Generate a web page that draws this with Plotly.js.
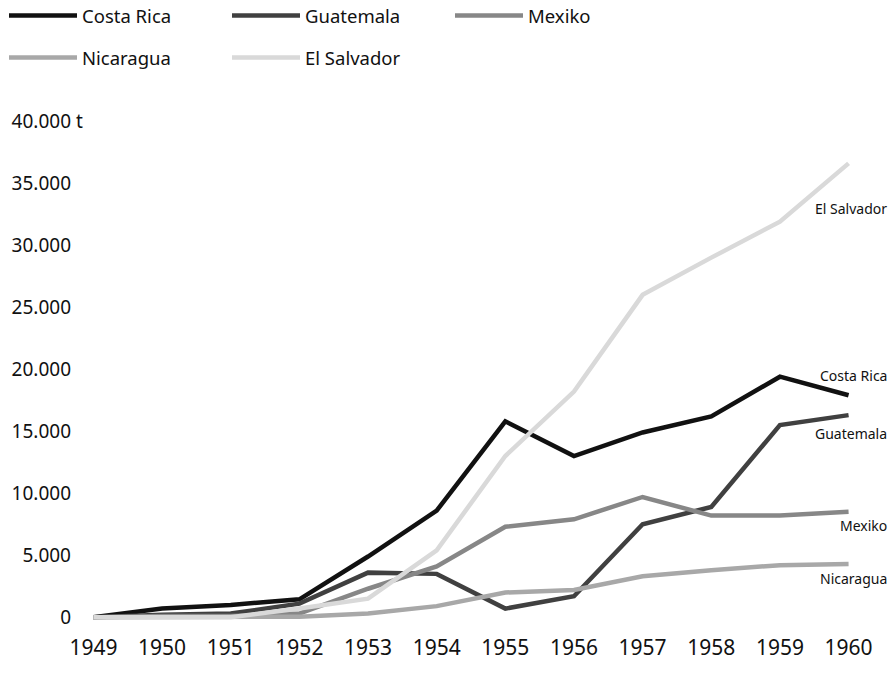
<!DOCTYPE html>
<html>
<head>
<meta charset="utf-8">
<script src="https://cdn.plot.ly/plotly-3.0.1.min.js"></script>
<style>html,body{margin:0;padding:0;background:#fff;}#chart{width:894px;height:686px;}</style>
</head>
<body>
<div id="chart"></div>
<script>
const years = [1949,1950,1951,1952,1953,1954,1955,1956,1957,1958,1959,1960];
const costaRica  = [0, 700, 1000, 1450, 4900, 8600, 15800, 13000, 14900, 16200, 19400, 17900];
const guatemala  = [0, 200, 300, 1100, 3600, 3500, 700, 1700, 7500, 8900, 15500, 16300];
const mexiko     = [0, 100, 100, 300, 2300, 4100, 7300, 7900, 9700, 8200, 8200, 8500];
const nicaragua  = [0, 0, 0, 50, 300, 900, 2000, 2200, 3300, 3800, 4200, 4300];
const elSalvador = [0, 0, 0, 700, 1500, 5400, 13000, 18200, 26000, 29000, 31900, 36600];

const seriesNames = ['Costa Rica','Guatemala','Mexiko','Nicaragua','El Salvador'];
const seriesData = [costaRica, guatemala, mexiko, nicaragua, elSalvador];
const colors = ['#111111','#404040','#878787','#a8a8a8','#d9d9d9'];
const legendOf = ['legend','legend','legend','legend2','legend2'];

const yTickVals = [0,5000,10000,15000,20000,25000,30000,35000,40000];
const yTickText = ['0','5.000','10.000','15.000','20.000','25.000','30.000','35.000','40.000'];
const yUnit = 't';

// end-of-line labels and the y-level where each is written
const endLabels = ['El Salvador','Costa Rica','Guatemala','Mexiko','Nicaragua'];
const endLabelY = [33000, 19500, 14800, 7400, 3100];

const FONT = 'Noto Sans, Open Sans, sans-serif';

const traces = seriesNames.map((n,i)=>({
  x: years, y: seriesData[i], name: n, type:'scatter', mode:'lines',
  line:{color:colors[i], width:4.5}, legend: legendOf[i], hoverinfo:'skip'
}));

const annotations = endLabels.map((t,i)=>({
  x: 1960, y: endLabelY[i], xref:'x', yref:'y', text:t, showarrow:false,
  xanchor:'right', yanchor:'middle', xshift:40,
  font:{family:FONT, size:14, color:'#111'}
}));
annotations.push({
  x: 0, y: 40000, xref:'paper', yref:'y', text: yUnit, showarrow:false,
  xanchor:'left', yanchor:'middle', xshift:-16,
  font:{family:FONT, size:19, color:'#111'}
});

const legendCommon = {
  orientation:'h', xanchor:'left', yanchor:'middle', xref:'container', yref:'container',
  entrywidth:140, entrywidthmode:'pixels', itemwidth:68,
  font:{family:FONT, size:18.5, color:'#111'}, bgcolor:'rgba(0,0,0,0)'
};

const layout = {
  width:894, height:686,
  margin:{l:90, r:42, t:115, b:65},
  paper_bgcolor:'#fff', plot_bgcolor:'#fff',
  showlegend:true,
  legend: Object.assign({}, legendCommon, {x:4/894, y:1-16/686}),
  legend2: Object.assign({}, legendCommon, {x:4/894, y:1-58/686}),
  xaxis:{
    range:[1948.95,1960.05], tickvals:years, ticktext:years.map(String),
    showgrid:false, zeroline:false, showline:false, ticks:'',
    ticklabelstandoff:12,
    tickfont:{family:'Liberation Sans Narrow, Noto Sans, sans-serif', size:21, color:'#111'}
  },
  yaxis:{
    range:[-300,40500], tickvals:yTickVals, ticktext:yTickText,
    showgrid:false, zeroline:false, showline:false, ticks:'',
    ticklabelstandoff:18,
    tickfont:{family:FONT, size:19, color:'#111'}
  },
  annotations: annotations
};

Plotly.newPlot('chart', traces, layout, {displayModeBar:false, staticPlot:true});
</script>
</body>
</html>
